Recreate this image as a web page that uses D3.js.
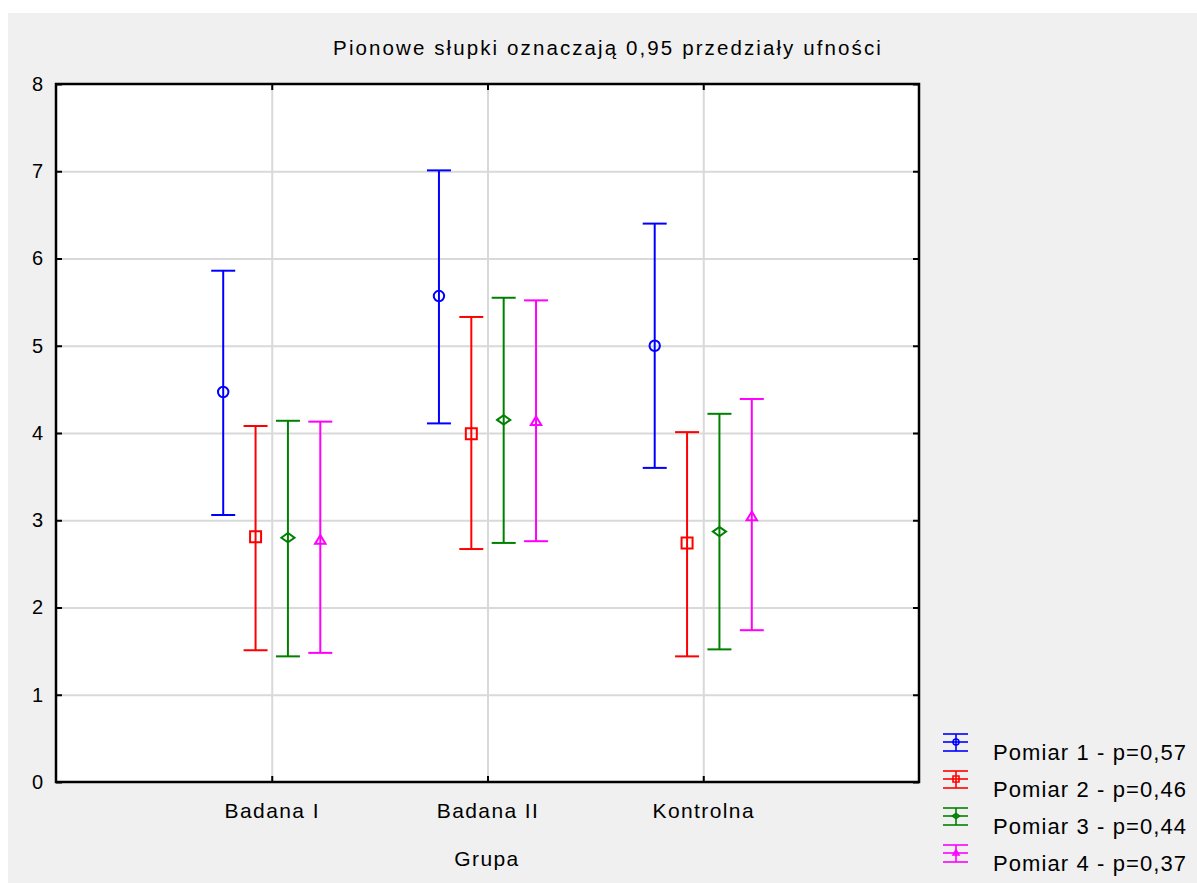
<!DOCTYPE html>
<html>
<head>
<meta charset="utf-8">
<script src="https://cdn.jsdelivr.net/npm/d3@7"></script>
<style>
  body { margin: 0; background: #fff; }
  svg { display: block; font-family: "Liberation Sans", Arial, sans-serif; }
</style>
</head>
<body>
<svg width="1197" height="883"></svg>
<script>
const groups = ["Badana I", "Badana II", "Kontrolna"];
const seriesNames = ["Pomiar 1 - p=0,57", "Pomiar 2 - p=0,46", "Pomiar 3 - p=0,44", "Pomiar 4 - p=0,37"];
const seriesColors = ["#0000ff", "#ff0000", "#008000", "#ff00ff"];
const seriesShapes = ["circle", "square", "diamond", "triangle"];

// means and 0.95 CI bounds, one value per group
const pomiar1Mean = [4.47, 5.57, 5.00];
const pomiar1Low  = [3.06, 4.11, 3.60];
const pomiar1High = [5.86, 7.01, 6.40];

const pomiar2Mean = [2.81, 3.99, 2.74];
const pomiar2Low  = [1.51, 2.67, 1.44];
const pomiar2High = [4.08, 5.33, 4.01];

const pomiar3Mean = [2.80, 4.15, 2.87];
const pomiar3Low  = [1.44, 2.74, 1.52];
const pomiar3High = [4.14, 5.55, 4.22];

const pomiar4Mean = [2.77, 4.13, 3.04];
const pomiar4Low  = [1.48, 2.76, 1.74];
const pomiar4High = [4.13, 5.52, 4.39];

const yTicks = [0, 1, 2, 3, 4, 5, 6, 7, 8];
const title = "Pionowe słupki oznaczają 0,95 przedziały ufności";
const xTitle = "Grupa";

const series = [
  [pomiar1Mean, pomiar1Low, pomiar1High],
  [pomiar2Mean, pomiar2Low, pomiar2High],
  [pomiar3Mean, pomiar3Low, pomiar3High],
  [pomiar4Mean, pomiar4Low, pomiar4High]
].map(([m, lo, hi], s) => ({
  name: seriesNames[s], color: seriesColors[s], shape: seriesShapes[s], index: s,
  points: groups.map((g, i) => ({ group: i + 1, mean: m[i], low: lo[i], high: hi[i] }))
}));

const svg = d3.select("svg");
const W = 1197, H = 883;
const plot = { left: 56, top: 84, right: 919, bottom: 782 };
const pw = plot.right - plot.left, ph = plot.bottom - plot.top;

const x = d3.scaleLinear().domain([0, 4]).range([plot.left, plot.right]);
const y = d3.scaleLinear().domain([0, 8]).range([plot.bottom, plot.top]);
const offset = d3.scalePoint().domain(d3.range(4)).range([-0.225, 0.225]);

// marker shapes (unfilled)
function shapePath(shape, s) {
  const p = d3.path();
  if (shape === "circle") {
    p.moveTo(s, 0); p.arc(0, 0, s, 0, 2 * Math.PI);
  } else if (shape === "square") {
    p.rect(-s, -s, 2 * s, 2 * s);
  } else if (shape === "diamond") {
    p.moveTo(-s * 1.2, 0); p.lineTo(0, -s * 0.85); p.lineTo(s * 1.2, 0); p.lineTo(0, s * 0.85); p.closePath();
  } else {
    p.moveTo(0, -s); p.lineTo(s, s * 0.65); p.lineTo(-s, s * 0.65); p.closePath();
  }
  return p.toString();
}
const markerSize = { circle: 5.2, square: 5.5, diamond: 5.5, triangle: 5.2 };

// background
svg.append("rect").attr("width", W).attr("height", H).attr("fill", "#fff");
svg.append("rect").attr("x", 8).attr("y", 13).attr("width", W - 8).attr("height", H - 13).attr("fill", "#f0f0f0");
svg.append("rect").attr("x", plot.left).attr("y", plot.top).attr("width", pw).attr("height", ph).attr("fill", "#fff");

// grid
svg.append("g")
  .attr("transform", `translate(${plot.left},0)`)
  .call(d3.axisLeft(y).tickValues(d3.range(1, 8)).tickSize(-pw).tickFormat(""))
  .call(g => g.select(".domain").remove())
  .selectAll("line").attr("stroke", "#d9d9d9").attr("stroke-width", 2);

svg.append("g")
  .attr("transform", `translate(0,${plot.bottom})`)
  .call(d3.axisBottom(x).tickValues([1, 2, 3]).tickSize(-ph).tickFormat(""))
  .call(g => g.select(".domain").remove())
  .selectAll("line").attr("stroke", "#d9d9d9").attr("stroke-width", 2);

// inner ticks on all sides
const tickStyle = g => {
  g.select(".domain").remove();
  g.selectAll("line").attr("stroke", "#000").attr("stroke-width", 2);
};
svg.append("g").attr("transform", `translate(${plot.left},0)`)
  .call(d3.axisLeft(y).tickValues(yTicks).tickSize(-6).tickFormat("")).call(tickStyle);
svg.append("g").attr("transform", `translate(${plot.right},0)`)
  .call(d3.axisRight(y).tickValues(yTicks).tickSize(-6).tickFormat("")).call(tickStyle);
svg.append("g").attr("transform", `translate(0,${plot.bottom})`)
  .call(d3.axisBottom(x).tickValues([1, 2, 3]).tickSize(-6).tickFormat("")).call(tickStyle);
svg.append("g").attr("transform", `translate(0,${plot.top})`)
  .call(d3.axisTop(x).tickValues([1, 2, 3]).tickSize(-6).tickFormat("")).call(tickStyle);

// frame
svg.append("rect").attr("x", plot.left).attr("y", plot.top).attr("width", pw).attr("height", ph)
  .attr("fill", "none").attr("stroke", "#000").attr("stroke-width", 2.5);

// axis labels
svg.append("g").attr("transform", `translate(${plot.left},0)`)
  .call(d3.axisLeft(y).tickValues(yTicks).tickSize(0).tickPadding(13))
  .call(g => g.select(".domain").remove())
  .selectAll("text").attr("font-size", 20).attr("font-family", "Liberation Sans, Arial").attr("fill", "#000");

svg.append("g").attr("transform", `translate(0,${plot.bottom})`)
  .call(d3.axisBottom(x).tickValues([1, 2, 3]).tickSize(0).tickPadding(21).tickFormat(d => groups[d - 1]))
  .call(g => g.select(".domain").remove())
  .selectAll("text").attr("font-size", 21).attr("font-family", "Liberation Sans, Arial")
  .attr("letter-spacing", 1.4).attr("fill", "#000");

svg.append("text").attr("x", (plot.left + plot.right) / 2 - 0.5).attr("y", 866)
  .attr("text-anchor", "middle").attr("font-size", 21).attr("letter-spacing", 1.4).text(xTitle);

svg.append("text").attr("x", 608).attr("y", 55)
  .attr("text-anchor", "middle").attr("font-size", 20.5).attr("letter-spacing", 2.1).text(title);

// error bars
const capHalf = 12;
const sg = svg.selectAll(".series").data(series).enter().append("g")
  .attr("class", "series").attr("stroke", d => d.color).attr("fill", "none").attr("stroke-width", 2);

const pt = sg.selectAll(".pt").data(d => d.points.map(p => ({ ...p, s: d }))).enter().append("g")
  .attr("transform", d => `translate(${x(d.group + offset(d.s.index))},0)`);

pt.append("line").attr("y1", d => y(d.high)).attr("y2", d => y(d.low));
pt.append("line").attr("x1", -capHalf).attr("x2", capHalf).attr("y1", d => y(d.high)).attr("y2", d => y(d.high));
pt.append("line").attr("x1", -capHalf).attr("x2", capHalf).attr("y1", d => y(d.low)).attr("y2", d => y(d.low));
pt.append("path")
  .attr("transform", d => `translate(0,${y(d.mean)})`)
  .attr("d", d => shapePath(d.s.shape, markerSize[d.s.shape]));

// legend
const legend = svg.selectAll(".legend").data(series).enter().append("g")
  .attr("transform", (d, i) => `translate(956,${742 + i * 37})`);
legend.append("g").attr("stroke", d => d.color).attr("stroke-width", 1.6).attr("fill", "none")
  .call(g => {
    g.append("line").attr("x1", -13).attr("x2", 12).attr("y1", -8).attr("y2", -8);
    g.append("line").attr("x1", -13).attr("x2", 12).attr("y1", 0).attr("y2", 0);
    g.append("line").attr("x1", -13).attr("x2", 12).attr("y1", 9).attr("y2", 9);
    g.append("line").attr("x1", 0).attr("x2", 0).attr("y1", -8).attr("y2", 9);
    g.append("path").attr("d", d => shapePath(d.shape, 3));
  });
legend.append("text").attr("x", 37).attr("y", 18)
  .attr("font-size", 22).attr("letter-spacing", 1.1).attr("fill", "#000").text(d => d.name);
</script>
</body>
</html>
